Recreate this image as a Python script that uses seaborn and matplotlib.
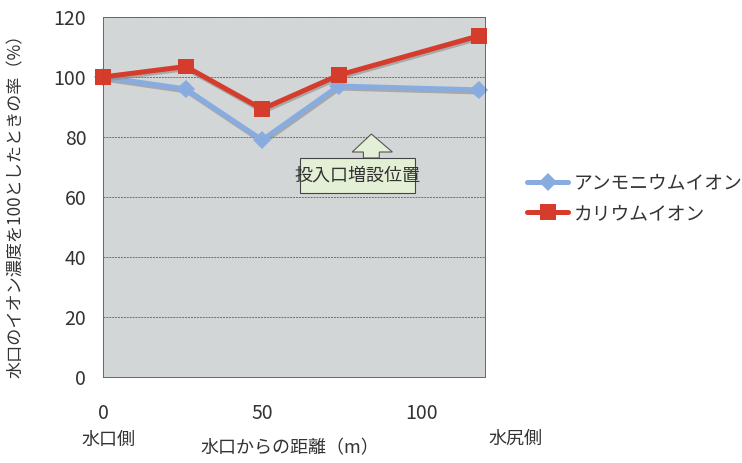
import matplotlib
matplotlib.use("Agg")
import matplotlib.pyplot as plt
import matplotlib.patheffects as pe
from matplotlib.patches import Polygon, Rectangle
from matplotlib.lines import Line2D
import seaborn as sns
import pandas as pd

# Distance from the inlet (m) and ion concentration ratio (%)
distance = [0, 26, 50, 74, 118]
ammonium = [100, 96, 79, 97, 95.7]
potassium = [100, 103.5, 89.3, 100.6, 113.7]
series_names = ["アンモニウムイオン", "カリウムイオン"]
x_ticks = [0, 50, 100]
y_ticks = [0, 20, 40, 60, 80, 100, 120]

df = pd.DataFrame({
    "distance": distance * 2,
    "ratio": ammonium + potassium,
    "ion": [series_names[0]] * len(distance) + [series_names[1]] * len(distance),
})

sns.set_theme(style="white")
plt.rcParams["font.family"] = ["Noto Sans CJK JP", "DejaVu Sans"]

W, H = 742, 463
fig = plt.figure(figsize=(W / 100, H / 100), dpi=100)
ax = fig.add_axes([103 / W, 1 - 377 / H, 382 / W, 360 / H])
ax.set_facecolor("#d3d6d7")

palette = {series_names[0]: "#88ace0", series_names[1]: "#d63c2b"}
markers = {series_names[0]: "D", series_names[1]: "s"}
sizes = {series_names[0]: 9.5, series_names[1]: 11.5}
shadow = [pe.SimpleLineShadow(offset=(0.8, -1.5), shadow_color="#8a8a8a", alpha=0.6), pe.Normal()]

sns.lineplot(data=df, x="distance", y="ratio", hue="ion", style="ion",
             palette=palette, markers=markers, dashes=False, linewidth=3.6,
             markersize=11, markeredgewidth=0, ax=ax, legend=False)
for line, name in zip(ax.lines, series_names):
    line.set_path_effects(shadow)
    line.set_markersize(sizes[name])
    line.set_clip_on(False)

ax.set_xlim(0, 120)
ax.set_ylim(0, 120)
ax.set_xticks(x_ticks)
ax.set_yticks(y_ticks)
ax.set_xticklabels([str(t) for t in x_ticks])
ax.tick_params(axis="x", direction="in", length=4, width=0.6, color="#555555",
               pad=19, labelsize=14, labelcolor="#333333")
ax.tick_params(axis="y", length=0, pad=12, labelsize=14, labelcolor="#333333")
ax.grid(axis="y", color="#6f6f6f", linewidth=0.7, linestyle=(0, (2, 1)))
ax.grid(axis="x", visible=False)
for s in ax.spines.values():
    s.set_color("#666666")
    s.set_linewidth(0.7)
    s.set_linestyle((0, (2, 1)))

ax.set_xlabel("")
ax.set_ylabel("")
fig.text(16 / W, 1 - 202 / H, "水口のイオン濃度を100としたときの率（%）", rotation=90,
         ha="center", va="center", fontsize=12.3, color="#333333")

# Callout: arrow pointing up from the label box
arrow = Polygon([(81.8, 73), (81.8, 75), (78.3, 75), (84.3, 81), (90.9, 75),
                 (86.8, 75), (86.8, 73)], closed=True, facecolor="#e4f0d6",
                edgecolor="#555555", linewidth=0.8, zorder=4)
ax.add_patch(arrow)
box = Rectangle((62, 61.3), 36, 11.7, facecolor="#e4f0d6", edgecolor="#444444",
                linewidth=0.8, zorder=4)
ax.add_patch(box)
ax.text(80, 67.1, "投入口増設位置", ha="center", va="center", fontsize=13,
        color="#333333", zorder=5)

# Legend outside the plot
handles = [Line2D([], [], color=palette[n], marker=markers[n], linewidth=3.6,
                  markersize=sizes[n], markeredgewidth=0)
           for n in series_names]
fig.legend(handles, series_names, loc="center left",
           bbox_to_anchor=(527 / W, 1 - 198 / H), frameon=False, fontsize=13.5,
           handlelength=2.2, labelspacing=0.5, handletextpad=0.3,
           borderaxespad=0, borderpad=0, labelcolor="#333333")

fig.text(290 / W, 1 - 448 / H, "水口からの距離（m）", ha="center", va="center",
         fontsize=13, color="#333333")
fig.text(108 / W, 1 - 440 / H, "水口側", ha="center", va="center",
         fontsize=13, color="#333333")
fig.text(515 / W, 1 - 439 / H, "水尻側", ha="center", va="center",
         fontsize=13, color="#333333")

fig.savefig("out.png", dpi=100)
